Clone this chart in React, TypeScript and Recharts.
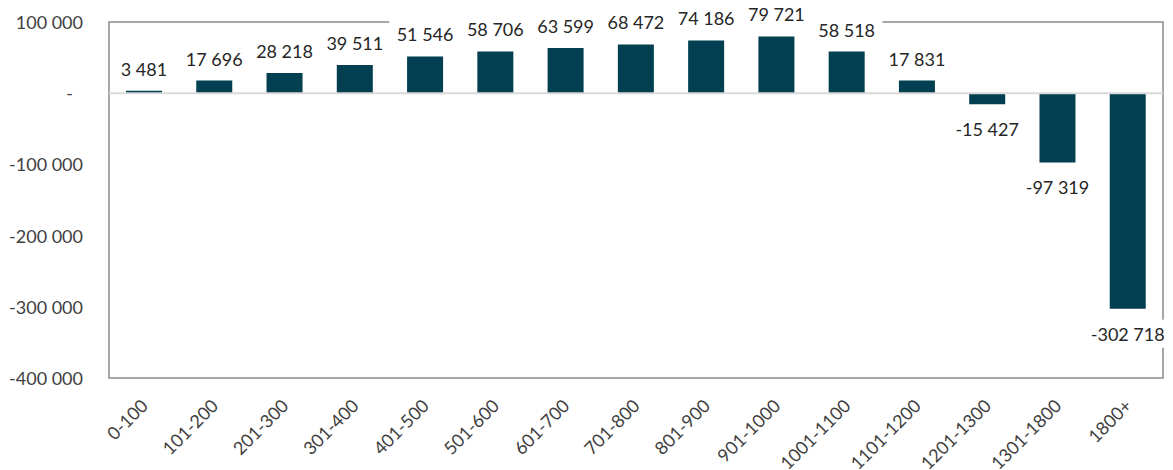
import { Bar, BarChart, LabelList, ReferenceArea, ReferenceLine, XAxis, YAxis } from 'recharts'

const categories = [
	'0-100',
	'101-200',
	'201-300',
	'301-400',
	'401-500',
	'501-600',
	'601-700',
	'701-800',
	'801-900',
	'901-1000',
	'1001-1100',
	'1101-1200',
	'1201-1300',
	'1301-1800',
	'1800+',
]

const values = [
	3481, 17696, 28218, 39511, 51546, 58706, 63599, 68472, 74186, 79721, 58518, 17831,
	-15427, -97319, -302718,
]

const yTicks = [100000, 0, -100000, -200000, -300000, -400000]

const data = categories.map((band, i) => ({ band, value: values[i] }))

const FONT = 'Lato, "Open Sans", sans-serif'
const TEXT = '#404040'
const BAR = '#023f51'

// thousands grouped with a space, zero shown as a dash
const formatNumber = (v: number) => {
	if (v === 0) return '-'
	const s = Math.abs(v)
		.toString()
		.replace(/\B(?=(\d{3})+(?!\d))/g, ' ')
	return v < 0 ? '-' + s : s
}

const YTick = ({ x, y, payload }: any) => (
	<text
		x={payload.value === 0 ? x - 10 : x}
		y={y}
		textAnchor="end"
		dominantBaseline="central"
		fontFamily={FONT}
		fontSize={18}
		fill={TEXT}
	>
		{formatNumber(payload.value)}
	</text>
)

const XTick = ({ x, y, payload }: any) => (
	<text
		x={x + 5}
		y={y + 27}
		textAnchor="end"
		transform={`rotate(-45 ${x + 5} ${y + 27})`}
		fontFamily={FONT}
		fontSize={18}
		fill={TEXT}
	>
		{payload.value}
	</text>
)

// value label with a white box behind it, above positive bars and below negative ones
const ValueLabel = (props: any) => {
	const { x, y, width, height, value } = props
	const top = Math.min(y, y + height)
	const bottom = Math.max(y, y + height)
	const cx = x + width / 2
	const cy = value >= 0 ? top - 22 : bottom + 25
	const label = formatNumber(value)
	const w = label.length * 9.6 + 14
	return (
		<g>
			<rect x={cx - w / 2} y={cy - 14} width={w} height={28} fill="#fff" />
			<text
				x={cx}
				y={cy}
				textAnchor="middle"
				dominantBaseline="central"
				fontFamily={FONT}
				fontSize={18}
				fill="#262626"
			>
				{label}
			</text>
		</g>
	)
}

const App = () => {
	return (
		<div style={{ position: 'absolute', left: 0, top: 0, background: '#fff' }}>
			<BarChart
				width={1173}
				height={470}
				data={data}
				margin={{ top: 22, right: 10, bottom: 0, left: 0 }}
			>
				<ReferenceArea
					y1={-400000}
					y2={100000}
					fill="none"
					stroke="#8a8a8a"
					strokeWidth={1.5}
				/>
				<ReferenceLine y={0} stroke="#d9d9d9" strokeWidth={2} />
				<XAxis
					dataKey="band"
					interval={0}
					height={92}
					tickLine={false}
					axisLine={false}
					tickSize={0}
					tick={<XTick />}
				/>
				<YAxis
					domain={[-400000, 100000]}
					ticks={yTicks}
					width={109}
					tickLine={false}
					axisLine={false}
					tickSize={0}
					tickMargin={26}
					tick={<YTick />}
				/>
				<Bar dataKey="value" fill={BAR} barSize={36} isAnimationActive={false}>
					<LabelList dataKey="value" content={<ValueLabel />} />
				</Bar>
			</BarChart>
		</div>
	)
}

export default App
